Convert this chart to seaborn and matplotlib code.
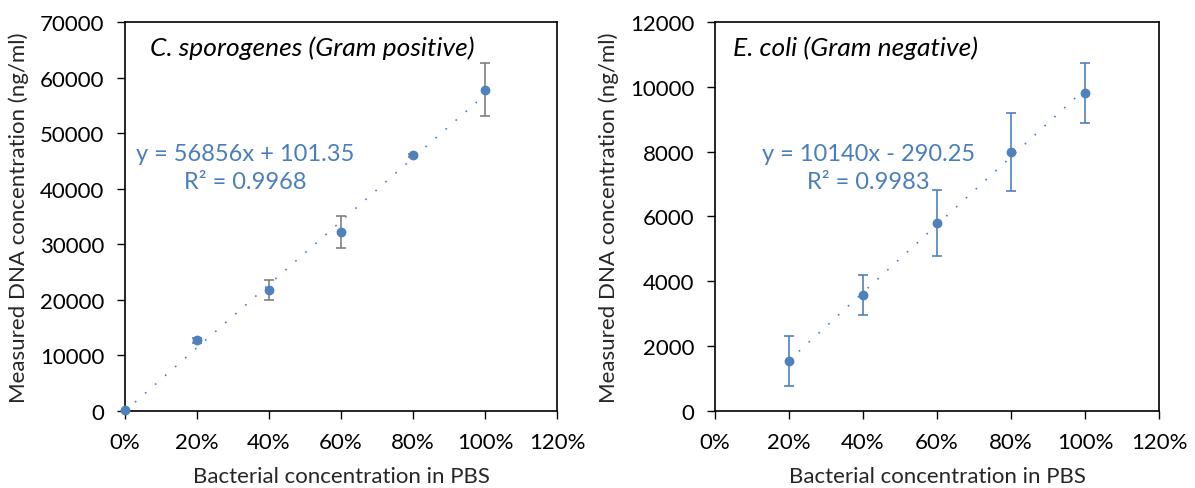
import numpy as np
import pandas as pd
import seaborn as sns
import matplotlib
matplotlib.use("Agg")
import matplotlib.pyplot as plt
from matplotlib.ticker import PercentFormatter

# C. sporogenes (Gram positive)
cs_conc = [0.0, 0.2, 0.4, 0.6, 0.8, 1.0]
cs_dna = [200, 12700, 21800, 32200, 46000, 57800]
cs_err = [0, 400, 1800, 2800, 300, 4800]

# E. coli (Gram negative)
ec_conc = [0.2, 0.4, 0.6, 0.8, 1.0]
ec_dna = [1550, 3580, 5800, 7990, 9810]
ec_err = [770, 620, 1030, 1200, 920]

titles = ["C. sporogenes (Gram positive)", "E. coli (Gram negative)"]
equations = ["y = 56856x + 101.35", "y = 10140x - 290.25"]
r2_labels = ["R\u00b2 = 0.9968", "R\u00b2 = 0.9983"]
y_maxes = [70000, 12000]
y_steps = [10000, 2000]

sns.set_style("white")
plt.rcParams["font.family"] = ["Lato", "DejaVu Sans"]

blue = "#4f81bd"
eqcol = "#4a7ebb"

fig = plt.figure(figsize=(11.95, 4.89), dpi=100)
ax1 = fig.add_axes([0.1046, 0.1575, 0.3615, 0.7955])
ax2 = fig.add_axes([0.5983, 0.1575, 0.3716, 0.7955])

panels = [
    (ax1, cs_conc, cs_dna, cs_err, "#7f7f7f"),
    (ax2, ec_conc, ec_dna, ec_err, blue),
]
eq_x = [0.279, 0.346]

for i, (ax, x, y, err, ecol) in enumerate(panels):
    df = pd.DataFrame({"conc": x, "dna": y})
    sns.regplot(data=df, x="conc", y="dna", ax=ax, ci=None, scatter=False,
                line_kws=dict(color=blue, lw=1.2, ls=(0, (1, 7))))
    ax.errorbar(x, y, yerr=err, fmt="none", ecolor=ecol, elinewidth=1.2,
                capsize=3.5, capthick=1.2, zorder=3)
    sns.scatterplot(data=df, x="conc", y="dna", ax=ax, color=blue, s=50,
                    edgecolor=blue, linewidth=0, zorder=4, clip_on=False)

    ax.set_xlim(0, 1.2)
    ax.set_ylim(0, y_maxes[i])
    ax.set_xticks(np.arange(0, 1.21, 0.2))
    ax.set_yticks(np.arange(0, y_maxes[i] + 1, y_steps[i]))
    ax.xaxis.set_major_formatter(PercentFormatter(1.0, decimals=0))
    ax.tick_params(axis="both", labelsize=16, colors="#000000", length=6,
                   width=1, direction="out", bottom=True, left=True, pad=9)
    for sp in ax.spines.values():
        sp.set_color("#000000")
        sp.set_linewidth(1.2)
    ax.set_xlabel("Bacterial concentration in PBS", fontsize=16, labelpad=10)
    ax.set_ylabel("Measured DNA concentration (ng/ml)", fontsize=16, labelpad=8)

    ax.text(0.057 if i == 0 else 0.04, 0.965, titles[i], transform=ax.transAxes,
            fontsize=19, style="italic", ha="left", va="top", color="#000000")

    ax.text(eq_x[i], 0.661, equations[i], transform=ax.transAxes, fontsize=17,
            color=eqcol, ha="center", va="center")
    ax.text(eq_x[i], 0.589, r2_labels[i], transform=ax.transAxes, fontsize=17,
            color=eqcol, ha="center", va="center")

fig.savefig("out.png", dpi=100)
